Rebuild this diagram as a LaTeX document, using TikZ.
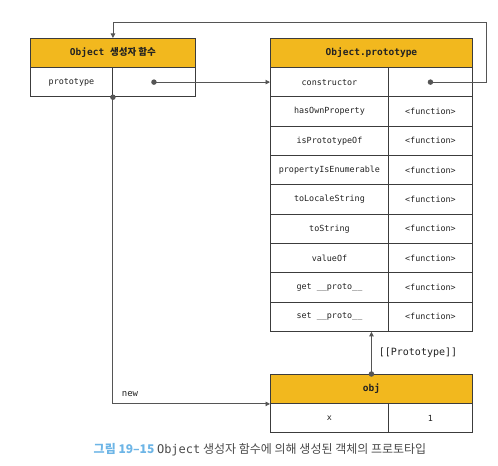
\documentclass[tikz,border=0pt]{standalone}
\usepackage{fontspec}
\setmainfont{Noto Sans CJK KR}
\setmonofont{DejaVu Sans Mono}
\usetikzlibrary{arrows.meta}
\definecolor{gold}{HTML}{F2B81E}
\definecolor{boxline}{HTML}{3C3C3C}
\definecolor{lineclr}{HTML}{555555}
\definecolor{txt}{HTML}{222222}
\definecolor{capblue}{HTML}{6DB5E6}
\definecolor{capgray}{HTML}{4A4A4A}
\newcommand{\celltext}{\fontsize{8.4bp}{10bp}\selectfont\ttfamily}
\newcommand{\headtext}{\fontsize{9.5bp}{11bp}\selectfont\bfseries}
\begin{document}
\begin{tikzpicture}[x=1bp,y=-1bp,
  cell/.style={draw=boxline, line width=0.9bp, minimum height=29.33bp, inner sep=0pt, font=\celltext, anchor=north west, text=txt},
  head/.style={cell, fill=gold, font=\headtext, minimum height=29bp},
  conn/.style={draw=lineclr, line width=0.9bp},
  arr/.style={conn, -{Triangle[length=4.5bp,width=4.5bp]}},
  dot/.style={circle, fill=lineclr, inner sep=0pt, minimum size=5.5bp},
  lbl/.style={font=\celltext, text=txt}]
\useasboundingbox (0,0) rectangle (498,466);
% left box
\node[head, minimum width=165bp] (lhead) at (30,38) {\texttt{Object\ }생성자 함수};
\node[cell, minimum width=82bp] (lprop) at (30,67) {prototype};
\node[cell, minimum width=83bp] (lval) at (112,67) {};
% right box
\node[head, minimum width=202bp] (rhead) at (270,38) {\texttt{Object.prototype}};
\foreach \t [count=\i] in {constructor,hasOwnProperty,isPrototypeOf,propertyIsEnumerable,toLocaleString,toString,valueOf,get \_\_proto\_\_,set \_\_proto\_\_}{
  \node[cell, minimum width=118bp] (r\i) at (270,{67+29.33*(\i-1)}) {\t};
  \node[cell, minimum width=84bp] (v\i) at (388,{67+29.33*(\i-1)}) {\ifnum\i=1 \else <function>\fi};
}
% obj box
\node[head, minimum width=202bp] (ohead) at (270,374) {\texttt{obj}};
\node[cell, minimum width=118bp] (ox) at (270,403) {x};
\node[cell, minimum width=84bp] (o1) at (388,403) {1};
% connectors
\node[dot] (d1) at (lval.center) {};
\draw[arr] (d1.center) -- (r1.west);
\node[dot] (d2) at (v1.center) {};
\coordinate (ctop) at (486,22);
\draw[arr] (d2.center) -| (ctop) -| (lhead.north);
\node[dot] (d3) at (lprop.south east) {};
\draw[arr] (d3.center) |- (ohead.south west);
\node[dot] (d4) at (ohead.north) {};
\draw[arr] (d4.center) -- (d4.center |- r9.south);
% labels
\node[font=\fontsize{10bp}{12bp}\selectfont\ttfamily, text=txt] (ptl) at (418,353) {[[Prototype]]};
\node[lbl, font=\fontsize{9bp}{11bp}\selectfont\ttfamily] (newl) at (130,394) {new};
% caption
\node[font=\fontsize{12bp}{14bp}\selectfont, text=capgray] (cap) at (260,450) {{\color{capblue}\bfseries 그림 19–15} {\ttfamily Object} 생성자 함수에 의해 생성된 객체의 프로토타입};
\end{tikzpicture}
\end{document}
